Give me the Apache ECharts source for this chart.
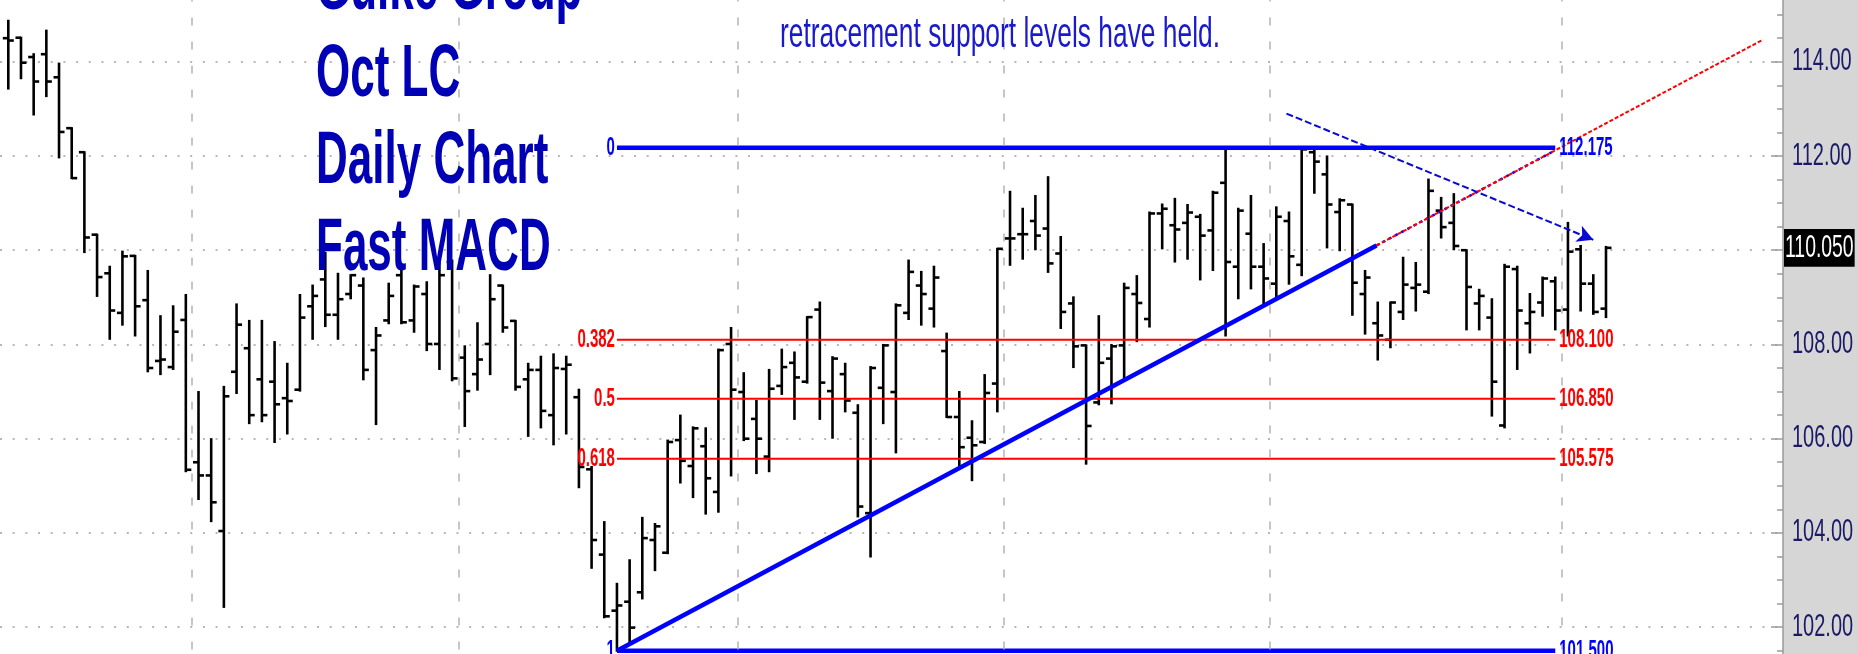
<!DOCTYPE html>
<html lang="en">
<head>
<meta charset="utf-8">
<title>Oct LC Daily Chart</title>
<script src="https://cdn.jsdelivr.net/npm/echarts@6.0.0/dist/echarts.min.js"></script>
<style>
html, body { margin: 0; padding: 0; background: #fff; }
#chart { width: 1857px; height: 654px; }
</style>
</head>
<body>
<div id="chart"></div>
<script>
// daily OHLC bars (bar 1 = left edge)
var opens  = [114.50,114.51,114.10,114.16,113.67,112.59,112.08,110.33,109.51,108.67,109.88,108.94,107.65,107.52,108.52,105.50,105.22,104.04,107.42,107.92,
              107.26,107.21,106.86,107.04,108.81,109.38,108.63,109.07,109.25,107.88,108.51,109.47,108.51,109.07,108.01,109.75,107.72,107.37,108.01,109.25,
              108.50,107.26,107.46,106.50,107.48,106.88,105.35,103.54,102.35,102.54,102.74,103.85,103.58,105.97,105.42,105.84,104.87,108.01,106.99,106.42,
              105.62,107.12,107.61,107.21,108.74,107.01,107.37,106.55,104.42,107.08,106.99,108.67,109.25,108.76,107.86,106.46,106.02,105.93,107.17,110.25,
              110.34,110.62,110.46,109.93,108.87,107.98,106.77,107.70,107.98,109.07,108.54,110.78,110.53,110.58,110.71,110.42,111.43,109.65,110.35,109.65,
              109.29,110.62,109.69,112.08,111.61,110.81,110.97,109.07,108.45,108.10,108.69,109.20,109.12,110.84,110.58,110.00,108.87,108.57,106.28,109.60,
              108.45,108.89,109.34,108.74,110.02,109.29,108.76];
var highs  = [114.87,114.51,114.16,114.66,113.96,112.59,112.08,110.33,109.65,109.97,109.88,109.56,108.60,108.81,109.05,106.99,105.99,107.10,108.85,108.50,
              108.50,108.05,107.59,109.05,109.25,109.94,109.50,109.47,109.40,108.35,109.29,109.65,109.25,109.32,109.73,109.78,107.96,108.45,109.47,109.25,
              108.50,107.59,107.74,107.79,107.74,107.04,105.40,104.23,102.92,103.42,104.32,104.19,105.96,106.49,106.24,106.22,107.89,108.35,107.39,106.80,
              107.46,107.89,107.83,108.58,108.89,107.73,107.59,106.71,107.52,107.99,108.85,109.78,109.54,109.65,108.23,106.99,106.37,107.35,110.03,111.24,
              110.88,111.15,111.55,110.28,109.00,107.98,108.60,107.99,109.29,109.45,110.80,110.97,111.09,110.96,110.75,111.24,112.175,110.88,111.15,110.13,
              110.91,110.80,112.175,112.175,111.99,111.08,110.97,109.56,108.89,108.89,109.84,109.73,111.50,111.11,111.19,110.00,109.16,108.96,109.69,109.65,
              109.07,109.42,109.42,110.58,110.09,109.47,110.07];
var lows   = [113.43,113.65,112.88,113.27,111.97,111.53,109.96,109.03,108.12,108.42,108.19,107.43,107.37,107.48,105.31,104.72,104.25,102.43,106.97,106.33,
              106.37,105.93,106.11,107.02,108.12,108.39,108.12,108.98,107.26,106.31,108.45,108.45,108.27,107.88,107.48,107.24,106.27,107.04,107.37,108.27,
              107.04,106.06,106.24,105.88,106.11,104.97,103.26,102.21,101.50,101.64,102.61,103.21,103.57,105.07,104.76,104.41,104.45,105.22,105.97,105.27,
              105.31,106.95,106.42,107.19,106.42,106.02,106.58,104.35,103.50,106.33,105.71,108.54,108.42,108.38,106.46,105.42,105.12,105.91,106.58,109.69,
              109.82,110.02,109.54,108.35,107.52,105.47,106.73,106.75,107.30,108.07,108.38,110.04,109.76,109.82,109.38,109.58,108.19,108.98,109.19,108.87,
              108.98,109.29,109.47,111.22,110.06,110.00,108.63,108.23,107.68,107.94,108.54,108.72,109.09,110.27,110.02,108.32,108.32,106.49,106.24,107.48,
              107.83,108.61,108.32,108.19,108.72,108.65,108.58];
var closes = [114.45,113.98,113.58,113.58,112.51,111.53,110.27,109.43,108.72,109.87,108.81,107.50,107.68,108.27,105.34,105.22,104.65,106.90,108.42,106.50,
              106.50,106.73,106.80,108.57,109.03,108.63,108.96,109.47,107.46,108.19,109.03,108.47,109.23,108.01,109.47,107.28,107.01,107.68,108.96,108.36,
              107.10,107.46,106.59,107.50,107.57,105.40,103.85,102.23,102.46,101.99,103.89,104.14,105.93,105.53,106.22,105.16,107.88,107.04,106.00,106.00,
              107.06,107.52,107.30,108.58,107.19,107.70,106.81,104.56,107.50,107.98,108.83,109.54,109.07,109.42,106.46,105.82,105.86,106.97,110.03,110.25,
              110.34,110.31,109.72,108.69,107.96,106.27,107.61,107.96,109.20,108.88,110.78,110.88,110.44,110.80,110.31,111.22,109.75,110.84,109.65,109.40,
              110.71,109.87,112.14,111.88,110.97,111.06,109.31,109.42,108.19,108.89,109.27,109.27,111.26,110.49,110.09,109.22,109.03,107.21,109.65,108.72,
              108.69,109.40,108.72,109.97,109.29,108.69,110.05];

var lastPrice = 110.05;
var yTicks = [102, 104, 106, 108, 110, 112, 114];

// month separators, between bars
var monthLines = [15.5, 36.5, 58.5, 79.5, 100.5, 123.5];

// fibonacci retracement drawn from the low (bar 49) to the high
var fibRatios = ['0', '0.382', '0.5', '0.618', '1'];
var fibPrices = [112.175, 108.100, 106.850, 105.575, 101.500];
var fibFrom = 49, fibTo = 123;

// trend lines (bar index, price)
var trendBlue   = [[49, 101.5], [108.9, 110.1]];
var trendDotted = [[108.9, 110.1], [123, 112.12]];
var trendRed    = [[108.9, 110.1], [139.4, 114.47]];
var arrowLine   = [[101.8, 112.9], [126, 110.22]];

var titleLines = ['Gulke Group', 'Oct LC', 'Daily Chart', 'Fast MACD'];
var noteText = 'retracement support levels have held.';

var sans = '"Liberation Sans", Arial, sans-serif';
var xMin = 0.345, xMax = 140.96;

var bars = opens.map(function (o, i) {
    return [i + 1, o, highs[i], lows[i], closes[i]];
});

function renderBar(params, api) {
    var x = api.value(0);
    var pO = api.coord([x, api.value(1)]);
    var pH = api.coord([x, api.value(2)]);
    var pL = api.coord([x, api.value(3)]);
    var pC = api.coord([x, api.value(4)]);
    var st = { stroke: '#000', lineWidth: 2.6 };
    return {
        type: 'group',
        children: [
            { type: 'line', shape: { x1: pH[0], y1: pH[1] - 1, x2: pL[0], y2: pL[1] + 1 }, style: st },
            { type: 'line', shape: { x1: pO[0] - 5.5, y1: pO[1], x2: pO[0], y2: pO[1] }, style: st },
            { type: 'line', shape: { x1: pC[0], y1: pC[1], x2: pC[0] + 5.5, y2: pC[1] }, style: st }
        ]
    };
}

var series = [];

series.push({
    type: 'line',
    data: [],
    z: 1,
    markLine: {
        silent: true,
        symbol: 'none',
        label: { show: false },
        lineStyle: { color: '#b4b4b4', type: [8, 16], width: 1.5 },
        data: monthLines.map(function (m) { return { xAxis: m }; })
    }
});

series.push({
    type: 'custom',
    renderItem: renderBar,
    data: bars,
    encode: { x: 0, y: [1, 2, 3, 4] },
    z: 2
});

fibPrices.forEach(function (p, k) {
    var blue = (k === 0 || k === fibPrices.length - 1);
    var col = blue ? '#0000ff' : '#ff0000';
    series.push({
        type: 'line',
        z: 4,
        symbol: 'none',
        lineStyle: { color: col, width: blue ? 4.5 : 2 },
        data: [[fibFrom, p], [fibTo, p]]
    });
});

series.push({
    type: 'line', z: 5, symbol: 'none', data: trendDotted,
    lineStyle: { color: '#0000ff', width: 2.5, type: [3, 4] }
});
series.push({
    type: 'line', z: 6, symbol: 'none', data: trendRed,
    lineStyle: { color: '#ff0000', width: 2, type: [4, 2] }
});
series.push({
    type: 'line', z: 6, symbol: 'none', data: trendBlue,
    lineStyle: { color: '#0000ff', width: 4.5 }
});
series.push({
    type: 'line', data: [], z: 6,
    markLine: {
        silent: true,
        symbol: ['none', 'arrow'],
        symbolSize: [13, 16],
        label: { show: false },
        lineStyle: { color: '#0a0ad2', width: 2, type: [7, 3] },
        data: [[{ coord: arrowLine[0] }, { coord: arrowLine[1] }]]
    }
});

var chart = echarts.init(document.getElementById('chart'));
chart.setOption({
    animation: false,
    backgroundColor: '#d6d6d6',
    grid: {
        left: 0, right: 74, top: -32.5, bottom: -67.4,
        containLabel: false,
        outerBoundsMode: 'none',
        show: true, backgroundColor: '#fff', borderWidth: 0
    },
    xAxis: {
        type: 'value',
        min: xMin,
        max: xMax,
        show: false
    },
    yAxis: {
        type: 'value',
        position: 'right',
        min: 100,
        max: 116,
        interval: 2,
        axisLine: { show: true, lineStyle: { color: '#9a9a9a', width: 1.5 } },
        axisTick: { show: true, inside: true, length: 12, lineStyle: { color: '#9a9a9a', width: 1.5 } },
        minorTick: { show: true, splitNumber: 4, length: 6, lineStyle: { color: '#9a9a9a', width: 1.5 } },
        splitLine: { show: true, lineStyle: { color: '#a0a0a0', type: [2, 10.68], width: 1.5 } },
        axisLabel: { show: false }
    },
    series: series
});

// tall, narrow labels (the original printout is stretched vertically)
function px(x, y) {
    return chart.convertToPixel({ xAxisIndex: 0, yAxisIndex: 0 }, [x, y]);
}
function tallText(t, x, y, size, sy, col, align, extra) {
    var st = { text: t, fill: col, fontFamily: sans, fontSize: size, align: align, verticalAlign: 'middle' };
    for (var k in extra) st[k] = extra[k];
    return { type: 'text', x: x, y: y, scaleY: sy, z: 20, silent: true, style: st };
}

var graphics = [];
titleLines.forEach(function (t, k) {
    graphics.push(tallText(t, 316, -11.6 + k * 87, 44, 1.68, '#0000b4', 'left', { fontWeight: 'bold' }));
});
graphics.push(tallText(noteText, 780, 35, 26.4, 1.63, '#1a1acc', 'left', {}));

var axisX = px(xMax, 108)[0];
yTicks.forEach(function (v) {
    graphics.push(tallText(v.toFixed(2), axisX + 9, px(xMax, v)[1], 20, 1.55, '#1a1a66', 'left', {}));
});
graphics.push(tallText(lastPrice.toFixed(3), axisX + 1, px(xMax, lastPrice)[1], 19.4, 1.65, '#fff', 'left',
    { backgroundColor: '#000', padding: [2, 1, 2, 1], lineHeight: 19 }));

fibPrices.forEach(function (p, k) {
    var blue = (k === 0 || k === fibPrices.length - 1);
    var col = blue ? '#0000ff' : '#ff0000';
    var a = px(fibFrom, p), b = px(fibTo, p);
    graphics.push(tallText(fibRatios[k], a[0] - 2, a[1], 15, 1.7, col, 'right', { fontWeight: 'bold' }));
    graphics.push(tallText(p.toFixed(3), b[0] + 4, b[1], 15, 1.75, col, 'left', { fontWeight: 'bold' }));
});

chart.setOption({ graphic: graphics });
</script>
</body>
</html>
